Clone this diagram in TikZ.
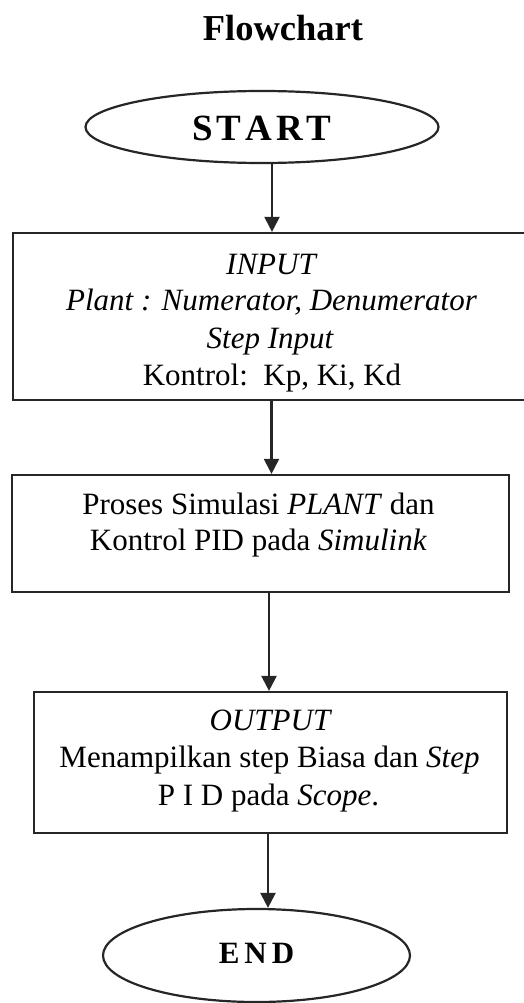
\documentclass[tikz,border=0pt]{standalone}
\usepackage{fontspec}
\setmainfont{Liberation Serif}
\usetikzlibrary{shapes.geometric,arrows.meta}
\begin{document}
\begin{tikzpicture}[x=1pt,y=-1pt,
  ln/.style={line width=2.2pt, draw=black!85},
  boxnode/.style={ln, rectangle, inner sep=0pt},
  ovalnode/.style={ln, ellipse, inner sep=0pt},
  txt/.style={anchor=base, inner sep=0pt, font=\fontsize{31}{37}\selectfont},
  arr/.style={ln, -{Triangle[width=15pt,length=15pt]}}]
\useasboundingbox (0,0) rectangle (524,1003);
\clip (0,0) rectangle (524,1003);
% title
\node[anchor=base, inner sep=0pt, font=\fontsize{36.5}{40}\selectfont\bfseries] (title) at (283,41) {Flowchart};
% start
\node[ovalnode, minimum width=353pt, minimum height=72pt] (start) at (262,127) {};
\node[inner sep=0pt, font=\fontsize{37}{40}\selectfont\bfseries] (starttxt) at (262,128)
  {S\kern4pt T\kern4pt A\kern4pt R\kern4pt T};
% input box
\node[boxnode, minimum width=518pt, minimum height=167pt] (input) at (272,316.5) {};
\node[txt] (in1) at (271,274) {\itshape INPUT};
\node[txt] (in2) at (271.5,310) {\itshape Plant : Numerator, Denumerator};
\node[txt] (in3) at (270,348) {\itshape Step Input};
\node[txt] (in4) at (272,385) {Kontrol:\ \ Kp, Ki, Kd};
% process box
\node[boxnode, minimum width=497pt, minimum height=117pt] (proc) at (260.5,533.5) {};
\node[txt] (pr1) at (258.5,514) {Proses Simulasi \textit{PLANT} dan};
\node[txt] (pr2) at (258.5,550) {Kontrol PID pada \textit{Simulink}};
% output box
\node[boxnode, minimum width=473pt, minimum height=141pt] (output) at (270.5,762.5) {};
\node[txt] (ou1) at (270,730) {\itshape OUTPUT};
\node[txt] (ou2) at (269.5,767) {Menampilkan step Biasa dan \textit{Step}};
\node[txt] (ou3) at (268.5,805) {P I D pada \textit{Scope}.};
% end
\node[ovalnode, minimum width=307pt, minimum height=93pt] (end) at (256.5,955.5) {};
\node[inner sep=0pt, font=\fontsize{31}{36}\selectfont\bfseries] (endtxt) at (256.5,953)
  {E\kern5pt N\kern5pt D};
% arrow x positions
\coordinate (a1) at (272,0);
\coordinate (a2) at (271.5,0);
\coordinate (a3) at (269,0);
\coordinate (a4) at (268,0);
\draw[arr] (start.south -| a1) -- (input.north -| a1);
\draw[arr] (input.south -| a2) -- (proc.north -| a2);
\draw[arr] (proc.south -| a3) -- (output.north -| a3);
\draw[arr] (output.south -| a4) -- (end.north -| a4);
\end{tikzpicture}
\end{document}
